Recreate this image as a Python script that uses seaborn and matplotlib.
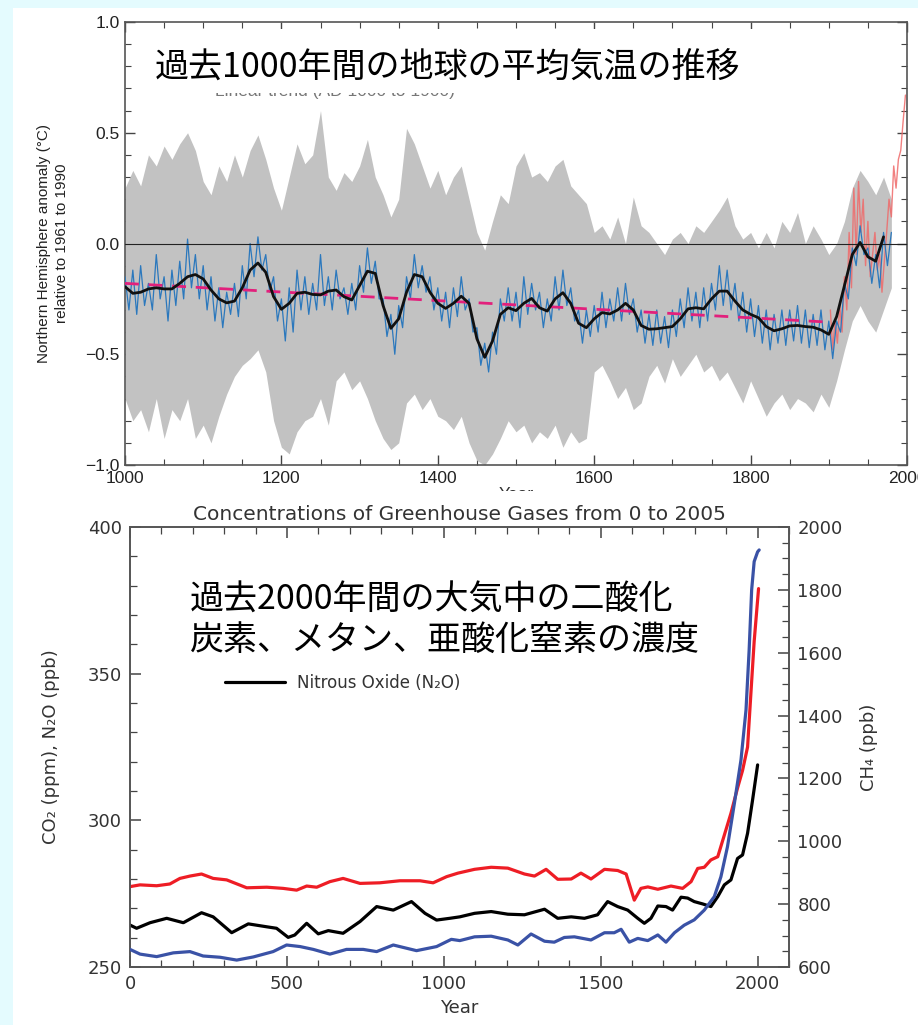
import numpy as np
import matplotlib
matplotlib.use("Agg")
import matplotlib.pyplot as plt
from matplotlib.patches import Rectangle
from matplotlib.lines import Line2D
from matplotlib.ticker import MultipleLocator
import seaborn as sns

sns.set_theme(style="ticks")
plt.rcParams["font.family"] = ["Liberation Sans", "Noto Sans CJK JP", "DejaVu Sans"]

# ── 上段: 過去1000年の北半球気温 ─────────────────────────
band_years = np.arange(1000, 1990, 10)
band_upper = [0.25, 0.33, 0.26, 0.40, 0.35, 0.44, 0.38, 0.45, 0.50, 0.42,
              0.28, 0.22, 0.35, 0.28, 0.40, 0.30, 0.42, 0.49, 0.38, 0.25,
              0.15, 0.30, 0.45, 0.36, 0.40, 0.60, 0.30, 0.24, 0.32, 0.28,
              0.35, 0.47, 0.30, 0.22, 0.12, 0.20, 0.52, 0.45, 0.35, 0.25,
              0.33, 0.22, 0.30, 0.35, 0.20, 0.05, -0.03, 0.10, 0.22, 0.18,
              0.35, 0.41, 0.30, 0.32, 0.28, 0.35, 0.38, 0.26, 0.22, 0.18,
              0.05, 0.08, 0.02, 0.12, 0.00, 0.21, 0.08, 0.05, 0.00, -0.05,
              0.02, 0.05, 0.00, 0.08, 0.05, 0.10, 0.15, 0.21, 0.08, 0.02,
              0.05, -0.02, 0.05, -0.02, 0.10, 0.05, 0.14, 0.00, 0.08, 0.02,
              -0.05, 0.00, 0.10, 0.25, 0.33, 0.28, 0.22, 0.30, 0.20]
band_lower = [-0.70, -0.80, -0.75, -0.85, -0.70, -0.88, -0.75, -0.80, -0.70, -0.88,
              -0.82, -0.90, -0.78, -0.68, -0.60, -0.55, -0.52, -0.48, -0.58, -0.80,
              -0.92, -0.95, -0.85, -0.80, -0.78, -0.70, -0.82, -0.62, -0.58, -0.66,
              -0.62, -0.70, -0.80, -0.88, -0.93, -0.90, -0.72, -0.68, -0.75, -0.70,
              -0.78, -0.80, -0.84, -0.78, -0.90, -0.98, -1.00, -0.95, -0.88, -0.80,
              -0.85, -0.82, -0.90, -0.85, -0.88, -0.82, -0.92, -0.85, -0.90, -0.88,
              -0.58, -0.55, -0.62, -0.70, -0.65, -0.75, -0.72, -0.60, -0.55, -0.63,
              -0.52, -0.60, -0.55, -0.50, -0.58, -0.55, -0.62, -0.58, -0.65, -0.72,
              -0.62, -0.70, -0.78, -0.72, -0.68, -0.75, -0.70, -0.72, -0.76, -0.68,
              -0.74, -0.62, -0.48, -0.35, -0.28, -0.35, -0.40, -0.30, -0.20]

recon_years = np.arange(1000, 1985, 5)
recon_vals = [-0.15, -0.30, -0.12, -0.32, -0.10, -0.28, -0.18, -0.30, -0.05, -0.25,
              -0.15, -0.35, -0.12, -0.28, -0.08, -0.25, 0.02, -0.20, -0.05, -0.25,
              -0.10, -0.30, -0.15, -0.35, -0.20, -0.38, -0.22, -0.32, -0.18, -0.33,
              -0.10, -0.25, 0.00, -0.15, 0.03, -0.12, -0.05, -0.22, -0.15, -0.35,
              -0.25, -0.44, -0.20, -0.40, -0.12, -0.30, -0.15, -0.32, -0.18, -0.30,
              -0.05, -0.28, -0.15, -0.30, -0.12, -0.25, -0.20, -0.32, -0.18, -0.30,
              -0.10, -0.22, -0.02, -0.18, -0.08, -0.25, -0.25, -0.42, -0.32, -0.50,
              -0.28, -0.38, -0.15, -0.25, -0.05, -0.20, -0.10, -0.22, -0.15, -0.30,
              -0.20, -0.35, -0.22, -0.38, -0.20, -0.33, -0.15, -0.30, -0.25, -0.40,
              -0.38, -0.55, -0.45, -0.58, -0.40, -0.50, -0.25, -0.35, -0.20, -0.35,
              -0.22, -0.38, -0.15, -0.32, -0.18, -0.30, -0.22, -0.38, -0.25, -0.35,
              -0.15, -0.30, -0.12, -0.28, -0.20, -0.35, -0.30, -0.45, -0.30, -0.42,
              -0.28, -0.40, -0.22, -0.38, -0.25, -0.35, -0.20, -0.35, -0.18, -0.32,
              -0.25, -0.40, -0.30, -0.45, -0.32, -0.46, -0.30, -0.45, -0.33, -0.47,
              -0.30, -0.42, -0.25, -0.38, -0.20, -0.35, -0.22, -0.38, -0.20, -0.35,
              -0.18, -0.30, -0.10, -0.28, -0.12, -0.30, -0.18, -0.35, -0.22, -0.40,
              -0.25, -0.42, -0.28, -0.45, -0.30, -0.48, -0.32, -0.45, -0.30, -0.46,
              -0.30, -0.44, -0.28, -0.45, -0.30, -0.47, -0.32, -0.46, -0.30, -0.48,
              -0.35, -0.52, -0.35, -0.40, -0.18, -0.25, -0.02, -0.10, 0.08, -0.05,
              -0.02, -0.18, -0.05, -0.20, 0.05, -0.10, 0.05]

smooth_years = np.arange(1000, 1980, 10)
smooth_vals = [-0.195, -0.225, -0.22, -0.205, -0.20, -0.205, -0.205, -0.18, -0.15, -0.14,
               -0.16, -0.21, -0.25, -0.268, -0.26, -0.20, -0.12, -0.088, -0.13, -0.24,
               -0.297, -0.27, -0.225, -0.22, -0.23, -0.232, -0.215, -0.21, -0.24, -0.255,
               -0.19, -0.125, -0.135, -0.28, -0.383, -0.34, -0.22, -0.14, -0.15, -0.22,
               -0.27, -0.293, -0.27, -0.238, -0.27, -0.43, -0.514, -0.44, -0.32, -0.29,
               -0.303, -0.27, -0.248, -0.29, -0.305, -0.25, -0.222, -0.27, -0.36, -0.38,
               -0.34, -0.312, -0.318, -0.30, -0.27, -0.30, -0.37, -0.387, -0.385, -0.38,
               -0.375, -0.34, -0.295, -0.29, -0.295, -0.25, -0.215, -0.215, -0.26, -0.30,
               -0.32, -0.335, -0.375, -0.394, -0.385, -0.372, -0.37, -0.375, -0.378, -0.39,
               -0.41, -0.33, -0.19, -0.05, 0.005, -0.06, -0.08, 0.03]

instr_years = np.arange(1902, 1999, 3)
instr_vals = [-0.30, -0.48, -0.35, -0.45, -0.28, -0.40, -0.15, -0.30, 0.05, -0.20,
              0.25, -0.05, 0.28, 0.05, 0.20, -0.10, 0.10, -0.15, -0.05, 0.05,
              -0.12, -0.05, -0.22, -0.08, 0.05, 0.20, 0.12, 0.35, 0.25, 0.38,
              0.42, 0.55, 0.67]

trend_years = [1000, 1900]
trend_vals = [-0.18, -0.355]

top_yticks = [-1.0, -0.5, 0.0, 0.5, 1.0]
top_yticklabels = ["\u22121.0", "\u22120.5", "0.0", "0.5", "1.0"]
top_xticks = [1000, 1200, 1400, 1600, 1800, 2000]

# ── 下段: 温室効果ガス濃度 ────────────────────────────────
co2_years = [0, 32, 85, 127, 159, 191, 228, 265, 308, 372,
             436, 488, 531, 563, 595, 637, 679, 733, 796, 860,
             924, 966, 1009, 1045, 1098, 1151, 1204, 1257, 1289, 1326,
             1363, 1406, 1437, 1469, 1512, 1554, 1581, 1607, 1628, 1650,
             1682, 1724, 1761, 1788, 1809, 1830, 1851, 1873, 1894, 1915,
             1936, 1952, 1968, 1979, 1989, 2003]
co2_ppm = [277.4, 278, 277.7, 278.3, 280.2, 281, 281.7, 280.2, 279.7, 277,
           277.2, 276.8, 276.2, 277.6, 277.2, 279.1, 280.2, 278.5, 278.7, 279.4,
           279.4, 278.7, 280.8, 282, 283.3, 284, 283.7, 281.7, 281, 283.3,
           279.9, 280, 282, 280, 283.3, 282.9, 281.7, 272.8, 276.8, 277.3,
           276.5, 277.6, 276.8, 279.1, 283.6, 284, 286.5, 287.6, 295, 302.4,
           311, 317, 325, 344, 361, 379]

n2o_years = [0, 21, 64, 117, 170, 228, 265, 324, 377, 436,
             467, 504, 525, 563, 600, 632, 679, 733, 786, 839,
             897, 940, 977, 1019, 1051, 1098, 1151, 1204, 1257, 1321,
             1363, 1406, 1448, 1490, 1522, 1554, 1586, 1618, 1639, 1660,
             1682, 1708, 1729, 1756, 1777, 1798, 1825, 1851, 1873, 1894,
             1915, 1936, 1952, 1968, 1984, 2000]
n2o_ppb = [264.3, 263.2, 265.1, 266.6, 265.1, 268.5, 267.1, 261.7, 264.7, 263.7,
           263.2, 260.1, 260.9, 264.9, 261.3, 262.4, 261.5, 265.5, 270.6, 269.4,
           272.3, 268.3, 266, 266.6, 267.1, 268.3, 268.9, 268, 267.8, 269.7,
           266.6, 267.1, 266.6, 267.8, 272.3, 270.6, 269.4, 266.6, 264.9, 266.6,
           270.8, 270.6, 269.4, 273.8, 273.5, 272.3, 271.5, 270.6, 274, 278,
           279.7, 287, 288.2, 295.6, 307, 318.9]

ch4_years = [0, 32, 85, 138, 191, 233, 287, 340, 393, 456,
             499, 542, 584, 637, 690, 743, 786, 839, 913, 977,
             1024, 1051, 1098, 1151, 1204, 1236, 1278, 1321, 1352, 1384,
             1416, 1469, 1512, 1543, 1565, 1591, 1618, 1650, 1682, 1708,
             1735, 1766, 1798, 1830, 1862, 1883, 1904, 1926, 1947,
             1963, 1973, 1981, 1989, 2000, 2005]
ch4_ppb = [656, 641, 633, 645, 649, 635, 631, 622, 632, 649,
           670, 665, 656, 641, 656, 656, 649, 670, 652, 665,
           688, 684, 696, 698, 686, 670, 705, 682, 679, 694,
           696, 686, 709, 709, 720, 679, 691, 684, 702, 679,
           709, 733, 750, 781, 824, 887, 983, 1121, 1259,
           1418, 1609, 1800, 1890, 1921, 1927]

W, H = 918, 1025
fig = plt.figure(figsize=(W / 100, H / 100), dpi=100)
fig.patch.set_facecolor("#e4fbfe")
fig.add_artist(Rectangle((13 / W, 0), 1, 1 - 8 / H, transform=fig.transFigure,
                         facecolor="white", edgecolor="none", zorder=-5))

# ── 上段の描画 ──
ax = fig.add_axes([125 / W, 1 - 465 / H, 782 / W, 443 / H])
ax.fill_between(band_years, band_lower, band_upper, color="#c2c2c2", lw=0, zorder=1)
sns.lineplot(x=instr_years, y=instr_vals, ax=ax, color="#ef6a6a", lw=1.0, alpha=0.85,
             estimator=None, zorder=2)
sns.lineplot(x=recon_years, y=recon_vals, ax=ax, color="#2b78bd", lw=0.9,
             estimator=None, zorder=3)
ax.axhline(0, color="#222222", lw=0.8, zorder=3)
sns.lineplot(x=trend_years, y=trend_vals, ax=ax, color="#e2207c", lw=2.0,
             estimator=None, zorder=4)
ax.lines[-1].set_dashes((5, 3.5))
sns.lineplot(x=smooth_years, y=smooth_vals, ax=ax, color="#111111", lw=2.0,
             estimator=None, zorder=5)

ax.set_xlim(1000, 2000)
ax.set_ylim(-1.0, 1.0)
ax.set_xticks(top_xticks)
ax.set_xticklabels([str(t) for t in top_xticks])
ax.xaxis.set_minor_locator(MultipleLocator(50))
ax.set_yticks(top_yticks)
ax.set_yticklabels(top_yticklabels)
ax.yaxis.set_minor_locator(MultipleLocator(0.1))
ax.tick_params(which="both", direction="in", top=True, right=True,
               labelsize=12.5, colors="#444444", labelcolor="#222222")
ax.tick_params(which="major", length=7, width=1.0, pad=4)
ax.tick_params(which="minor", length=4, width=0.8)
for s in ax.spines.values():
    s.set_color("#555555")
    s.set_linewidth(1.2)
ax.set_xlabel("Year", fontsize=12.5, color="#333333", labelpad=1)
ax.set_ylabel("Northern Hemisphere anomaly (\u00b0C)\nrelative to 1961 to 1990",
              fontsize=11, color="#222222", linespacing=1.3)
ax.yaxis.set_label_coords(-0.072, 0.5)

# 凡例の名残(タイトル枠の下に一部だけ見える)
ax.plot([0.02, 0.10], [0.845, 0.845], transform=ax.transAxes, color="#f2a6c8",
        lw=2, dashes=(5, 3.5), zorder=6)
ax.text(0.115, 0.843, "Linear trend (AD 1000 to 1900)", transform=ax.transAxes,
        fontsize=12.5, color="#777777", va="center", ha="left", zorder=6)

fig.add_artist(Rectangle((136 / W, 1 - 93 / H), (900 - 136) / W, (93 - 29) / H,
                         transform=fig.transFigure, facecolor="white",
                         edgecolor="none", zorder=2))
fig.text(155 / W, 1 - 68 / H, "過去1000年間の地球の平均気温の推移",
         fontsize=24.5, family=["Noto Sans CJK JP", "DejaVu Sans"],
         color="black", ha="left", va="center", zorder=4)

# 上段の Year ラベル下半分を下段が覆う
fig.add_artist(Rectangle((13 / W, 1 - 501 / H), 1, 10 / H, transform=fig.transFigure,
                         facecolor="white", edgecolor="none", zorder=2))

# ── 下段の描画 ──
bx = fig.add_axes([130 / W, 1 - 967 / H, 659 / W, 440 / H])
bx2 = bx.twinx()
sns.lineplot(x=co2_years, y=co2_ppm, ax=bx, color="#ee1d25", lw=2.3,
             estimator=None, zorder=3)
sns.lineplot(x=n2o_years, y=n2o_ppb, ax=bx, color="#000000", lw=2.3,
             estimator=None, zorder=3)
sns.lineplot(x=ch4_years, y=ch4_ppb, ax=bx2, color="#3a52a6", lw=2.3,
             estimator=None, zorder=3)

bx.set_xlim(0, 2100)
bx.set_ylim(250, 400)
bx2.set_ylim(600, 2000)
bx.set_xticks([0, 500, 1000, 1500, 2000])
bx.xaxis.set_minor_locator(MultipleLocator(100))
bx.set_yticks([250, 300, 350, 400])
bx.yaxis.set_minor_locator(MultipleLocator(10))
bx2.set_yticks([600, 800, 1000, 1200, 1400, 1600, 1800, 2000])
bx2.yaxis.set_minor_locator(MultipleLocator(50))

dv = ["DejaVu Sans"]
bx.tick_params(which="both", direction="in", top=True, right=False,
               labelsize=13, colors="#444444", labelcolor="#333333")
bx2.tick_params(which="both", direction="in", right=True,
                labelsize=13, colors="#444444", labelcolor="#333333")
for a in (bx, bx2):
    a.tick_params(which="major", length=8, width=1.1, pad=6)
    a.tick_params(which="minor", length=5, width=0.9)
    for lab in a.get_xticklabels() + a.get_yticklabels():
        lab.set_family(dv)
    for s in a.spines.values():
        s.set_color("#555555")
        s.set_linewidth(1.2)
    a.set_ylabel("")
bx.set_xlabel("Year", fontsize=13, color="#333333", family=dv, labelpad=4)
bx.set_ylabel("CO\u2082 (ppm), N\u2082O (ppb)", fontsize=13, color="#333333", family=dv)
bx.yaxis.set_label_coords(-0.106, 0.5)
bx2.set_ylabel("CH\u2084 (ppb)", fontsize=13, color="#333333", family=dv)
bx2.yaxis.set_label_coords(1.108, 0.5)
bx.set_title("Concentrations of Greenhouse Gases from 0 to 2005",
             fontsize=14.5, color="#333333", family=dv, pad=5)

leg_handle = Line2D([], [], color="black", lw=2.3)
leg = bx.legend(handles=[leg_handle], labels=["Nitrous Oxide (N\u2082O)"],
                loc="center left", bbox_to_anchor=(0.144, 0.645), frameon=False,
                handlelength=3.6, handletextpad=0.7, borderpad=0, borderaxespad=0,
                prop={"family": dv, "size": 12})
for t in leg.get_texts():
    t.set_color("#333333")

fig.text(190 / W, 1 - 600 / H, "過去2000年間の大気中の二酸化",
         fontsize=24.5, family=["Noto Sans CJK JP", "DejaVu Sans"],
         color="black", ha="left", va="center", zorder=4)
fig.text(190 / W, 1 - 640 / H, "炭素、メタン、亜酸化窒素の濃度",
         fontsize=24.5, family=["Noto Sans CJK JP", "DejaVu Sans"],
         color="black", ha="left", va="center", zorder=4)

fig.savefig("out.png", dpi=100, facecolor=fig.get_facecolor())
